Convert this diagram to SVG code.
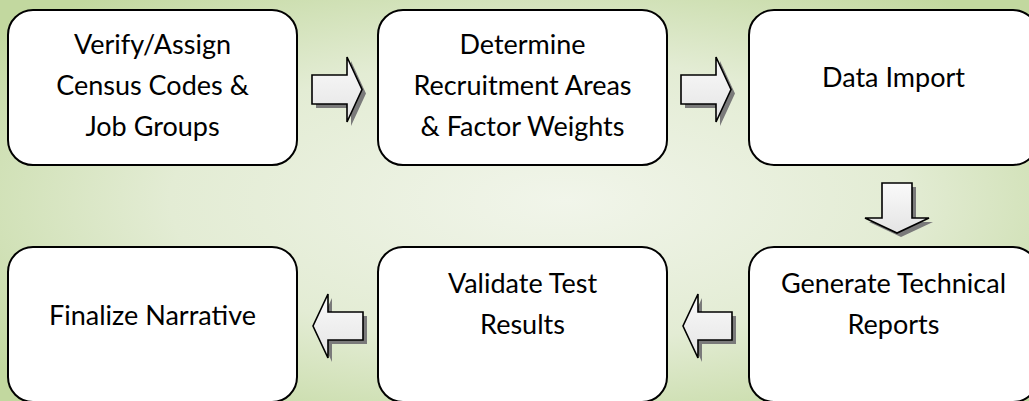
<svg xmlns="http://www.w3.org/2000/svg" width="1029" height="401" viewBox="0 0 1029 401">
  <defs>
    <radialGradient id="bg" cx="50%" cy="50%" r="65%" fx="55%" fy="50%">
      <stop offset="0" stop-color="#f1f5ea"/>
      <stop offset="0.55" stop-color="#e3ecd4"/>
      <stop offset="1" stop-color="#c2d89f"/>
    </radialGradient>
    <linearGradient id="arrowFill" x1="0" y1="0" x2="0" y2="1">
      <stop offset="0" stop-color="#fafafa"/>
      <stop offset="1" stop-color="#e4e4e4"/>
    </linearGradient>
    <filter id="soft" x="-20%" y="-20%" width="140%" height="140%">
      <feGaussianBlur stdDeviation="0.7"/>
    </filter>
  </defs>
  <style>
    .box { fill: #ffffff; stroke: #000000; stroke-width: 2; }
    .lbl { font-family: Lato, "Liberation Sans", sans-serif; font-size: 27px; fill: #000000; text-anchor: middle; }
    .arr { fill: url(#arrowFill); stroke: #000000; stroke-width: 1.6; stroke-linejoin: miter; }
    .shd { fill: #7a7a7a; filter: url(#soft); }
  </style>
  <rect x="0" y="0" width="1029" height="401" fill="url(#bg)"/>

  <g id="connectors">
    <g id="arrow-1-2">
      <polygon class="shd" transform="translate(4,4)" points="312,75 347,75 347,57 362,89.5 347,122 347,104 312,104"/>
      <polygon class="arr" points="312,75 347,75 347,57 362,89.5 347,122 347,104 312,104"/>
    </g>
    <g id="arrow-2-3">
      <polygon class="shd" transform="translate(4,4)" points="681,75 716,75 716,57 731,89.5 716,122 716,104 681,104"/>
      <polygon class="arr" points="681,75 716,75 716,57 731,89.5 716,122 716,104 681,104"/>
    </g>
    <g id="arrow-3-4">
      <polygon class="shd" transform="translate(4,4)" points="882,183 912,183 912,218 929,218 897,233 865,218 882,218"/>
      <polygon class="arr" points="882,183 912,183 912,218 929,218 897,233 865,218 882,218"/>
    </g>
    <g id="arrow-4-5">
      <polygon class="shd" transform="translate(4,4)" points="732,312 698,312 698,294 683,326 698,358 698,340 732,340"/>
      <polygon class="arr" points="732,312 698,312 698,294 683,326 698,358 698,340 732,340"/>
    </g>
    <g id="arrow-5-6">
      <polygon class="shd" transform="translate(4,4)" points="363,312 328,312 328,294 313,326 328,358 328,340 363,340"/>
      <polygon class="arr" points="363,312 328,312 328,294 313,326 328,358 328,340 363,340"/>
    </g>
  </g>

  <g id="node-verify">
    <rect class="box" x="8" y="10" width="289" height="155" rx="25" ry="25"/>
    <text class="lbl" x="152.5" y="54">Verify/Assign</text>
    <text class="lbl" x="152.5" y="95">Census Codes &amp;</text>
    <text class="lbl" x="152.5" y="136">Job Groups</text>
  </g>
  <g id="node-determine">
    <rect class="box" x="378" y="10" width="289" height="155" rx="25" ry="25"/>
    <text class="lbl" x="522.5" y="54">Determine</text>
    <text class="lbl" x="522.5" y="95">Recruitment Areas</text>
    <text class="lbl" x="522.5" y="136">&amp; Factor Weights</text>
  </g>
  <g id="node-import">
    <rect class="box" x="749" y="10" width="289" height="155" rx="25" ry="25"/>
    <text class="lbl" x="893.5" y="87">Data Import</text>
  </g>
  <g id="node-generate">
    <rect class="box" x="749" y="247" width="289" height="155" rx="25" ry="25"/>
    <text class="lbl" x="893.5" y="293">Generate Technical</text>
    <text class="lbl" x="893.5" y="334">Reports</text>
  </g>
  <g id="node-validate">
    <rect class="box" x="378" y="247" width="289" height="155" rx="25" ry="25"/>
    <text class="lbl" x="522.5" y="293">Validate Test</text>
    <text class="lbl" x="522.5" y="334">Results</text>
  </g>
  <g id="node-finalize">
    <rect class="box" x="8" y="247" width="289" height="155" rx="25" ry="25"/>
    <text class="lbl" x="152.5" y="325">Finalize Narrative</text>
  </g>
</svg>
